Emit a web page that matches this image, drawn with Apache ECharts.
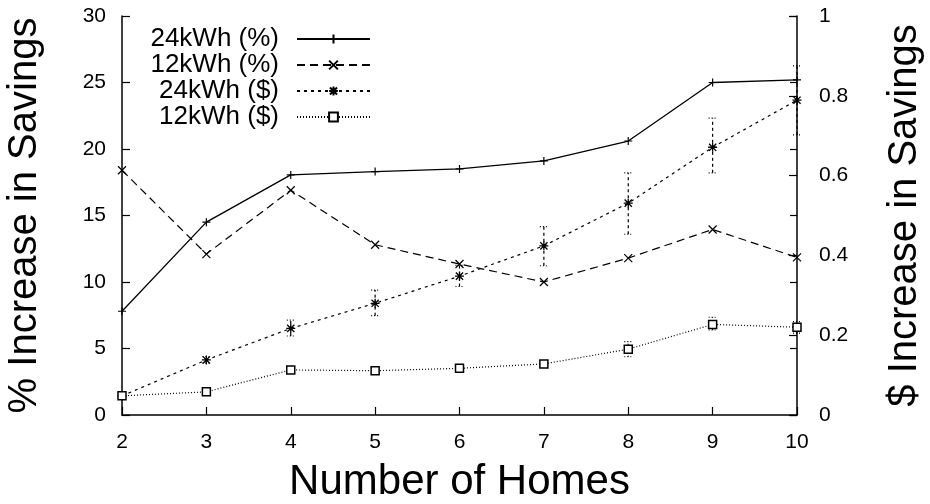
<!DOCTYPE html>
<html>
<head>
<meta charset="utf-8">
<script src="https://cdn.jsdelivr.net/npm/echarts@6/dist/echarts.min.js"></script>
<style>html,body{margin:0;padding:0;background:#fff}#c{width:930px;height:504px}</style>
</head>
<body>
<div id="c"></div>
<script>
const homes = [2, 3, 4, 5, 6, 7, 8, 9, 10];
const pct24 = [7.8, 14.5, 18.05, 18.3, 18.5, 19.1, 20.6, 25.0, 25.2];
const pct12 = [18.4, 12.1, 16.9, 12.8, 11.35, 10.0, 11.8, 13.95, 11.85];
const usd24 = [0.048, 0.138, 0.217, 0.28, 0.348, 0.424, 0.531, 0.671, 0.789];
const usd12 = [0.048, 0.058, 0.113, 0.111, 0.117, 0.128, 0.165, 0.227, 0.220];
const usd24Low = [0.044, 0.13, 0.198, 0.249, 0.322, 0.374, 0.453, 0.607, 0.702];
const usd24High = [0.052, 0.146, 0.238, 0.313, 0.375, 0.472, 0.607, 0.744, 0.875];
const usd12Low = [0.044, 0.052, 0.106, 0.104, 0.11, 0.12, 0.146, 0.213, 0.205];
const usd12High = [0.052, 0.064, 0.12, 0.118, 0.124, 0.136, 0.184, 0.245, 0.234];
const seriesNames = ['24kWh (%)', '12kWh (%)', '24kWh ($)', '12kWh ($)'];
const xTitle = 'Number of Homes';
const yLeftTitle = '% Increase in Savings';
const yRightTitle = '$ Increase in Savings';

const FONT = 'Liberation Sans';
const pair = (xs, ys) => xs.map((x, i) => [x, ys[i]]);
const triple = (xs, lo, hi) => xs.map((x, i) => [x, lo[i], hi[i]]);

const SYM_PLUS = 'path://M0 5L10 5M5 0L5 10';
const SYM_CROSS = 'path://M0 0L10 10M10 0L0 10';
const SYM_STAR = 'path://M0 5L10 5M5 0L5 10M1 1L9 9M9 1L1 9';

function errBar(dash, capDash) {
  return function (params, api) {
    const x = api.value(0);
    const lo = api.coord([x, api.value(1)]);
    const hi = api.coord([x, api.value(2)]);
    const cw = 4;
    return {
      type: 'group',
      children: [
        {type: 'line', shape: {x1: lo[0], y1: lo[1], x2: hi[0], y2: hi[1]},
         style: {stroke: '#000', lineWidth: 1.2, lineDash: dash}},
        {type: 'line', shape: {x1: lo[0] - cw, y1: lo[1], x2: lo[0] + cw, y2: lo[1]},
         style: {stroke: '#000', lineWidth: 1.2, lineDash: capDash}},
        {type: 'line', shape: {x1: hi[0] - cw, y1: hi[1], x2: hi[0] + cw, y2: hi[1]},
         style: {stroke: '#000', lineWidth: 1.2, lineDash: capDash}}
      ]
    };
  };
}

function legendFor(name, centerY) {
  return {
    data: [name],
    align: 'right',
    right: 559,
    top: centerY - 13,
    padding: 0,
    itemWidth: 73,
    itemHeight: 11,
    textStyle: {fontFamily: FONT, fontSize: 26, color: '#000', padding: [0, 13, 0, 0]},
    selectedMode: false
  };
}

const chart = echarts.init(document.getElementById('c'), null, {renderer: 'canvas'});
chart.setOption({
  animation: false,
  backgroundColor: '#fff',
  textStyle: {fontFamily: FONT, color: '#000'},
  grid: {left: 122, right: 133, top: 16, bottom: 89, containLabel: false, outerBoundsMode: 'none'},
  legend: [
    legendFor(seriesNames[0], 39),
    legendFor(seriesNames[1], 65),
    legendFor(seriesNames[2], 91),
    legendFor(seriesNames[3], 117)
  ],
  xAxis: {
    type: 'value', min: 2, max: 10, interval: 1,
    name: xTitle, nameLocation: 'middle', nameGap: 46,
    nameTextStyle: {fontFamily: FONT, fontSize: 42, color: '#000'},
    axisLine: {lineStyle: {color: '#000', width: 1.5}},
    axisTick: {inside: true, length: 8, lineStyle: {color: '#000', width: 1.2}},
    axisLabel: {margin: 17, fontFamily: FONT, fontSize: 21, color: '#000'},
    splitLine: {show: false}
  },
  yAxis: [
    {
      type: 'value', position: 'left', min: 0, max: 30, interval: 5,
      name: yLeftTitle, nameLocation: 'middle', nameGap: 77, nameRotate: 90,
      nameTextStyle: {fontFamily: FONT, fontSize: 40, color: '#000'},
      axisLine: {show: true, lineStyle: {color: '#000', width: 1.5}},
      axisTick: {show: true, inside: true, length: 8, lineStyle: {color: '#000', width: 1.2}},
      axisLabel: {margin: 16, fontFamily: FONT, fontSize: 21, color: '#000'},
      splitLine: {show: false}
    },
    {
      type: 'value', position: 'right', min: 0, max: 1, interval: 0.2,
      name: yRightTitle, nameLocation: 'middle', nameGap: 88, nameRotate: 90,
      nameTextStyle: {fontFamily: FONT, fontSize: 40, color: '#000'},
      axisLine: {show: true, lineStyle: {color: '#000', width: 1.5}},
      axisTick: {show: true, inside: true, length: 8, lineStyle: {color: '#000', width: 1.2}},
      axisLabel: {margin: 22, fontFamily: FONT, fontSize: 21, color: '#000'},
      splitLine: {show: false}
    },
    {
      type: 'value', position: 'right', min: 0, max: 30, interval: 5,
      axisLine: {show: false},
      axisTick: {show: true, inside: true, length: 7, lineStyle: {color: '#000', width: 1.2}},
      axisLabel: {show: false},
      splitLine: {show: false}
    }
  ],
  series: [
    {
      name: 'err24', type: 'custom', yAxisIndex: 1, z: 1,
      renderItem: errBar([3, 3], [1, 2]),
      data: triple(homes, usd24Low, usd24High)
    },
    {
      name: 'err12', type: 'custom', yAxisIndex: 1, z: 1,
      renderItem: errBar([1, 2], [1, 2]),
      data: triple(homes, usd12Low, usd12High)
    },
    {
      name: seriesNames[0], type: 'line', yAxisIndex: 0, z: 3,
      data: pair(homes, pct24),
      symbol: SYM_PLUS, symbolSize: 8, showAllSymbol: true,
      lineStyle: {color: '#000', width: 1.3, type: 'solid'},
      itemStyle: {color: '#000', borderColor: '#000', borderWidth: 1.2}
    },
    {
      name: seriesNames[1], type: 'line', yAxisIndex: 0, z: 3,
      data: pair(homes, pct12),
      symbol: SYM_CROSS, symbolSize: 8, showAllSymbol: true,
      lineStyle: {color: '#000', width: 1.2, type: [8, 5]},
      itemStyle: {color: '#000', borderColor: '#000', borderWidth: 1.2}
    },
    {
      name: seriesNames[2], type: 'line', yAxisIndex: 1, z: 3,
      data: pair(homes, usd24),
      symbol: SYM_STAR, symbolSize: 9, showAllSymbol: true,
      lineStyle: {color: '#000', width: 1.2, type: [3, 4]},
      itemStyle: {color: '#000', borderColor: '#000', borderWidth: 1.3}
    },
    {
      name: seriesNames[3], type: 'line', yAxisIndex: 1, z: 3,
      data: pair(homes, usd12),
      symbol: 'rect', symbolSize: 8, showAllSymbol: true,
      lineStyle: {color: '#000', width: 1.2, type: [1, 2]},
      itemStyle: {color: '#fff', borderColor: '#000', borderWidth: 1.5}
    }
  ]
});
</script>
</body>
</html>
